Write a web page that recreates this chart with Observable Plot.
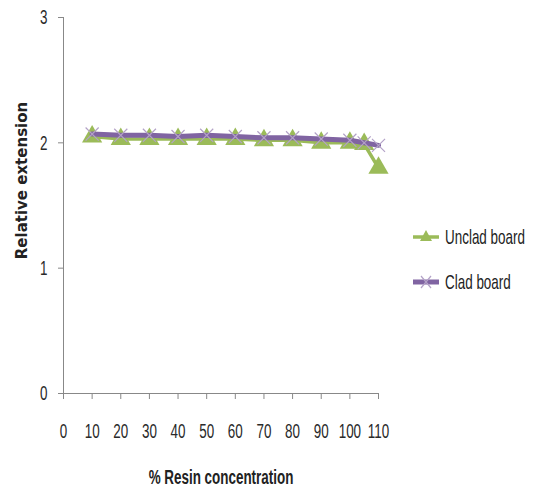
<!DOCTYPE html>
<html>
<head>
<meta charset="utf-8">
<script src="https://cdn.jsdelivr.net/npm/d3@7"></script>
<script src="https://cdn.jsdelivr.net/npm/@observablehq/plot@0.6"></script>
<style>
  html, body { margin: 0; padding: 0; background: #fff; }
  #wrap { position: relative; width: 542px; height: 497px; }
  #legend { position: absolute; left: 411px; top: 224px; font-family: "Liberation Sans", sans-serif; font-size: 21px; color: #222; white-space: nowrap; }
  .item { display: flex; align-items: center; height: 26px; margin-bottom: 19px; }
  .item svg { margin-right: 4px; }
  .item span { display: inline-block; transform: scaleX(0.64); transform-origin: left center; }
</style>
</head>
<body>
<div id="wrap">
  <div id="chart"></div>
  <div id="legend"></div>
</div>
<script>
const resin = [10, 20, 30, 40, 50, 60, 70, 80, 90, 100, 105, 110];
const unclad = [2.05, 2.03, 2.03, 2.03, 2.03, 2.03, 2.02, 2.02, 2.00, 2.00, 1.99, 1.80];
const clad = [2.07, 2.06, 2.06, 2.05, 2.06, 2.05, 2.04, 2.04, 2.03, 2.02, 2.00, 1.98];
const xTicks = [0, 10, 20, 30, 40, 50, 60, 70, 80, 90, 100, 110];
const yTicks = [0, 1, 2, 3];
const seriesNames = ["Unclad board", "Clad board"];

const green = "#9bbb59";
const purple = "#8064a2";
const lightPurple = "#b3a2c7";

const dUnclad = resin.map((x, i) => ({x, y: unclad[i]}));
const dClad = resin.map((x, i) => ({x, y: clad[i]}));

const chart = Plot.plot({
  width: 542,
  height: 497,
  marginLeft: 63,
  marginRight: 164,
  marginTop: 17,
  marginBottom: 104,
  style: {fontFamily: "Liberation Sans, sans-serif", fontSize: "21px", color: "#333", background: "#fff"},
  x: {domain: [0, 110], ticks: xTicks},
  y: {domain: [0, 3], ticks: yTicks},
  marks: [
    Plot.ruleY([0], {stroke: "#888", strokeWidth: 1}),
    Plot.ruleX([0], {stroke: "#888", strokeWidth: 1}),
    Plot.axisX({ticks: xTicks, tickFormat: "d", tickSize: 6, tickPadding: 24, stroke: "#888", label: null, fill: "#2a2a2a", className: "sq"}),
    Plot.axisY({ticks: yTicks, tickFormat: "d", tickSize: 5, tickPadding: 11, stroke: "#888", label: null, fill: "#2a2a2a", className: "sq"}),
    Plot.line(dUnclad, {x: "x", y: "y", stroke: green, strokeWidth: 3.5}),
    Plot.dot(dUnclad, {x: "x", y: "y", symbol: "triangle", r: 7.5, fill: green, stroke: "none"}),
    Plot.line(dClad, {x: "x", y: "y", stroke: purple, strokeWidth: 5}),
    Plot.dot(dClad, {x: "x", y: "y", symbol: "times", r: 6, stroke: lightPurple, strokeWidth: 1.2}),
    Plot.text(["% Resin concentration"], {frameAnchor: "bottom", dy: 90, fontSize: 21, fill: "#222", fontWeight: "bold", className: "sq"}),
    Plot.text(["Relative extension"], {frameAnchor: "left", textAnchor: "middle", dx: -41, dy: -25, rotate: -90, fontFamily: "DejaVu Sans", fontWeight: "bold", fontSize: 15, fill: "#222"})
  ]
});
document.getElementById("chart").appendChild(chart);

// emulate the narrow typeface of the original by squeezing text horizontally
d3.select(chart).selectAll("g.sq text").each(function () {
  const t = this.getAttribute("transform") || "";
  this.setAttribute("transform", t + " scale(0.64,1)");
});

const legend = document.getElementById("legend");
const swatches = [
  {color: green, sym: `<path d="M15,6 L21,17 L9,17 Z" fill="${green}"/>`},
  {color: purple, sym: `<path d="M10,7 L20,19 M20,7 L10,19" stroke="${lightPurple}" stroke-width="1.2"/>`}
];
seriesNames.forEach((name, i) => {
  const div = document.createElement("div");
  div.className = "item";
  div.innerHTML = `<svg width="30" height="26"><line x1="2" x2="28" y1="13" y2="13" stroke="${swatches[i].color}" stroke-width="${i === 0 ? 3.5 : 5}"/>${swatches[i].sym}</svg><span>${name}</span>`;
  legend.appendChild(div);
});
</script>
</body>
</html>
